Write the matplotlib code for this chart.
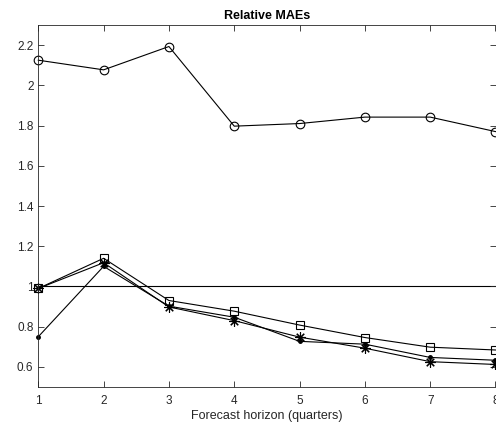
import matplotlib
matplotlib.use("Agg")
import matplotlib.pyplot as plt

plt.rcParams['font.family'] = ['Liberation Sans', 'DejaVu Sans']

horizons = [1, 2, 3, 4, 5, 6, 7, 8]
circle_series = [2.125, 2.077, 2.193, 1.797, 1.810, 1.842, 1.842, 1.770]
square_series = [0.99, 1.140, 0.930, 0.877, 0.808, 0.746, 0.698, 0.684]
star_series = [0.99, 1.118, 0.898, 0.830, 0.748, 0.693, 0.626, 0.612]
dot_series = [0.75, 1.100, 0.902, 0.847, 0.727, 0.713, 0.647, 0.633]
yticks = [0.6, 0.8, 1.0, 1.2, 1.4, 1.6, 1.8, 2.0, 2.2]
ytick_labels = ['0.6', '0.8', '1', '1.2', '1.4', '1.6', '1.8', '2', '2.2']

fig = plt.figure(figsize=(4.96, 4.33), dpi=100)
ax = fig.add_axes([38.3/496, 1 - 387/433, (495.5 - 38.3)/496, (387 - 25)/433])

gray = (0.15, 0.15, 0.15)
lw = 0.8
ax.axhline(1.0, color='black', lw=lw, zorder=1)
ax.plot(horizons, circle_series, color='black', lw=lw, marker='o', ms=6.2,
        mfc='none', mew=0.8, clip_on=False)
ax.plot(horizons, square_series, color='black', lw=lw, marker='s', ms=6.2,
        mfc='none', mew=0.8, clip_on=False)
ax.plot(horizons, star_series, color='black', lw=lw, marker=(8, 2, 0), ms=7.5,
        mew=0.8, clip_on=False)
ax.plot(horizons, dot_series, color='black', lw=lw, marker='.', ms=5,
        clip_on=False)

ax.set_xlim(1, 8)
ax.set_ylim(0.5, 2.3)
ax.set_xticks(horizons)
ax.set_yticks(yticks)
ax.set_yticklabels(ytick_labels)
ax.tick_params(direction='in', length=4, width=0.6, colors=gray, labelsize=8.5,
               top=True, right=True, labelcolor=gray)
ax.tick_params(axis='x', pad=6)
for s in ax.spines.values():
    s.set_color(gray)
    s.set_linewidth(0.6)
ax.set_xlabel('Forecast horizon (quarters)', fontsize=9, color=gray, labelpad=2)
ax.set_title('Relative MAEs', fontsize=9, fontweight='bold', pad=4)

fig.savefig('out.png', dpi=100)
